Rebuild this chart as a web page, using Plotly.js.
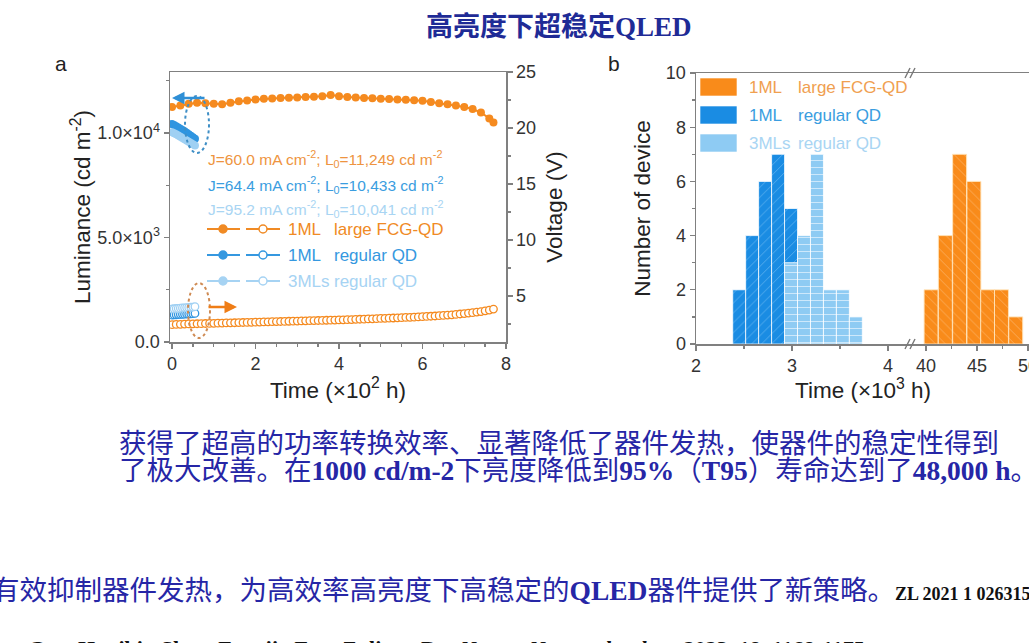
<!DOCTYPE html>
<html><head><meta charset="utf-8">
<script src="https://cdn.plot.ly/plotly-3.0.1.min.js"></script>
<style>html,body{margin:0;padding:0;background:#fff;overflow:hidden;} #chart{width:1029px;height:643px;}</style>
</head><body><div id="chart"></div>
<script>
// ---------- Panel a data (Time in 10^2 h) ----------
const fcgLumTime = [0,0.2,0.4,0.6,0.8,1.0,1.2,1.4,1.6,1.8,2.0,2.2,2.4,2.6,2.8,3.0,3.2,3.4,3.6,3.8,4.0,4.2,4.4,4.6,4.8,5.0,5.2,5.4,5.6,5.8,6.0,6.2,6.4,6.6,6.8,7.0,7.2,7.4,7.6,7.7];
const fcgLum = [11249,11320,11400,11450,11430,11400,11380,11450,11520,11560,11600,11640,11650,11680,11690,11700,11720,11740,11760,11820,11760,11720,11700,11680,11660,11640,11630,11610,11590,11570,11540,11480,11420,11380,11320,11250,11150,10980,10700,10500];
const fcgVoltTime = [0,0.1,0.2,0.3,0.4,0.5,0.6,0.7,0.8,0.9,1.0,1.1,1.2,1.3,1.4,1.5,1.6,1.7,1.8,1.9,2.0,2.1,2.2,2.3,2.4,2.5,2.6,2.7,2.8,2.9,3.0,3.1,3.2,3.3,3.4,3.5,3.6,3.7,3.8,3.9,4.0,4.1,4.2,4.3,4.4,4.5,4.6,4.7,4.8,4.9,5.0,5.1,5.2,5.3,5.4,5.5,5.6,5.7,5.8,5.9,6.0,6.1,6.2,6.3,6.4,6.5,6.6,6.7,6.8,6.9,7.0,7.1,7.2,7.3,7.4,7.5,7.6,7.7];
const fcgVolt = [2.45,2.47,2.48,2.50,2.51,2.52,2.53,2.54,2.55,2.56,2.57,
  2.58,2.59,2.60,2.61,2.62,2.63,2.64,2.65,2.66,2.67,
  2.68,2.69,2.70,2.71,2.72,2.73,2.74,2.75,2.76,2.77,
  2.78,2.79,2.80,2.81,2.82,2.83,2.84,2.85,2.86,2.87,
  2.88,2.89,2.90,2.92,2.93,2.94,2.96,2.97,2.98,3.00,
  3.01,3.03,3.04,3.06,3.07,3.09,3.10,3.12,3.14,3.16,
  3.18,3.20,3.22,3.25,3.27,3.30,3.33,3.36,3.40,3.44,
  3.48,3.52,3.57,3.62,3.68,3.75,3.84];
const regTime = [0,0.05,0.1,0.15,0.2,0.25,0.3,0.35,0.4,0.45,0.5,0.55];
const reg1Lum = [10433,10380,10330,10270,10200,10140,10080,10010,9940,9870,9800,9720];
const reg3Lum = [10041,9990,9940,9880,9820,9760,9700,9640,9580,9520,9460,9400];
const reg1Volt = [3.30,3.32,3.33,3.35,3.36,3.37,3.38,3.40,3.41,3.42,3.43,3.45];
const reg3Volt = [3.85,3.87,3.89,3.90,3.92,3.94,3.95,3.97,3.99,4.00,4.02,4.05];

// ---------- Panel b data (Time in 10^3 h) ----------
const reg1HistTime = [2.45,2.585,2.72,2.855,2.99];
const reg1HistCount = [2,4,6,7,5];
const reg3HistTime = [2.99,3.125,3.26,3.395,3.53,3.665];
const reg3HistCount = [3,4,7,2,2,1];
const fcgHistTime = [40.5,41.9,43.3,44.7,46.05,47.4,48.8];
const fcgHistCount = [2,4,7,6,2,2,1];

const lumTickVals = [0,5000,10000];
const lumTickText = ['0.0','5.0×10<sup>3</sup>','1.0×10<sup>4</sup>'];

const seriesNames = ['1ML', 'large FCG-QD', 'regular QD', '3MLs'];

// ---------- helpers for layout positions (pixels -> paper) ----------
const W = 1029, H = 643;
const P = x => x / W;
const Q = y => 1 - y / H;

const ORANGE = '#f58a1f', BLUE = '#2f95e0', LBLUE = '#9fd0f3';
const AX = '#808080';
const tickFont = {family: 'Liberation Sans, Arial, sans-serif', size: 18, color: '#333'};
const titleFont = {family: 'Liberation Sans, Arial, sans-serif', size: 22.5, color: '#222'};

const openMarker = c => ({color: '#fff', size: 7.5, symbol: 'circle', line: {color: c, width: 1.3}});

const traces = [
  {x: fcgVoltTime, y: fcgVolt, xaxis: 'x', yaxis: 'y2', mode: 'markers', name: 'FCG V',
   marker: openMarker(ORANGE), showlegend: false},
  {x: regTime, y: reg1Volt, xaxis: 'x', yaxis: 'y2', mode: 'markers', name: '1ML V',
   marker: openMarker(BLUE), showlegend: false},
  {x: regTime, y: reg3Volt, xaxis: 'x', yaxis: 'y2', mode: 'markers', name: '3ML V',
   marker: openMarker(LBLUE), showlegend: false},
  {x: fcgLumTime, y: fcgLum, xaxis: 'x', yaxis: 'y', mode: 'lines+markers', name: 'FCG L',
   line: {color: ORANGE, width: 2}, marker: {color: ORANGE, size: 8}, showlegend: false},
  {x: regTime, y: reg1Lum, xaxis: 'x', yaxis: 'y', mode: 'lines+markers', name: '1ML L',
   line: {color: BLUE, width: 2}, marker: {color: BLUE, size: 8}, showlegend: false},
  {x: regTime, y: reg3Lum, xaxis: 'x', yaxis: 'y', mode: 'lines+markers', name: '3ML L',
   line: {color: LBLUE, width: 2}, marker: {color: LBLUE, size: 8}, showlegend: false},
  {type: 'bar', x: reg1HistTime, y: reg1HistCount, xaxis: 'x3', yaxis: 'y3', width: 0.135, name: '1ML regular QD',
   marker: {color: '#1a8ce3', line: {color: 'rgba(255,255,255,0.75)', width: 1},
     pattern: {shape: '/', bgcolor: '#1a8ce3', fgcolor: '#5fb2ef', size: 7, solidity: 0.12}}, showlegend: false},
  {type: 'bar', x: reg3HistTime, y: reg3HistCount, xaxis: 'x3', yaxis: 'y3', width: 0.135, name: '3MLs regular QD',
   marker: {color: '#8ecbf3', line: {color: 'rgba(255,255,255,0.8)', width: 1},
     pattern: {shape: '-', bgcolor: '#8ecbf3', fgcolor: '#cde8fb', size: 7, solidity: 0.15}}, showlegend: false},
  {type: 'bar', x: fcgHistTime, y: fcgHistCount, xaxis: 'x4', yaxis: 'y3', width: 1.37, name: '1ML large FCG-QD',
   marker: {color: '#f98b1a', line: {color: 'rgba(255,230,190,0.9)', width: 1},
     pattern: {shape: '\\', bgcolor: '#f98b1a', fgcolor: '#fbb062', size: 7, solidity: 0.12}}, showlegend: false}
];

const axisCommon = {showline: true, linecolor: AX, linewidth: 1.5, ticks: 'outside', ticklen: 5, tickwidth: 1.3,
  tickcolor: AX, showgrid: false, zeroline: false, tickfont: tickFont, automargin: false, fixedrange: true};

const layout = {
  width: W, height: H, margin: {l: 0, r: 0, t: 0, b: 0},
  paper_bgcolor: '#fff', plot_bgcolor: 'rgba(0,0,0,0)', showlegend: false, barmode: 'overlay',
  font: {family: 'Liberation Sans, Arial, sans-serif'},
  xaxis: Object.assign({}, axisCommon, {domain: [P(170), P(506)], range: [-0.048, 8], dtick: 2, tick0: 0,
    mirror: true, anchor: 'y',
    minor: {dtick: 0.5, tick0: 0, ticks: 'outside', ticklen: 3, tickcolor: AX},
    title: {text: 'Time (×10<sup>2</sup> h)', font: titleFont, standoff: 1}}),
  yaxis: Object.assign({}, axisCommon, {domain: [Q(342), Q(72)], range: [0, 12920], anchor: 'x',
    tickmode: 'array', tickvals: lumTickVals, ticktext: lumTickText,
    minor: {tickmode: 'linear', dtick: 2500, tick0: 0, ticks: 'outside', ticklen: 3, tickcolor: AX},
    title: {text: 'Luminance (cd m<sup>-2</sup>)', font: titleFont, standoff: 0}}),
  yaxis2: Object.assign({}, axisCommon, {overlaying: 'y', side: 'right', anchor: 'x', range: [0.9, 25], dtick: 5, tick0: 0,
    minor: {dtick: 2.5, tick0: 0, ticks: 'outside', ticklen: 3, tickcolor: AX},
    title: {text: 'Voltage (V)', font: titleFont, standoff: 11}}),
  xaxis3: Object.assign({}, axisCommon, {domain: [P(696), P(912)], range: [2, 4.25], dtick: 1, tick0: 2,
    mirror: true, anchor: 'y3',
    minor: {dtick: 0.5, tick0: 2, ticks: 'outside', ticklen: 3, tickcolor: AX}}),
  xaxis4: Object.assign({}, axisCommon, {domain: [P(912), 1], range: [38.63, 50.1], dtick: 5, tick0: 40,
    mirror: true, anchor: 'y3', ticklabeloverflow: 'allow',
    minor: {dtick: 2.5, tick0: 40, ticks: 'outside', ticklen: 3, tickcolor: AX}}),
  yaxis3: Object.assign({}, axisCommon, {domain: [Q(344), Q(73)], range: [0, 10], dtick: 2, tick0: 0, anchor: 'x3',
    minor: {dtick: 1, tick0: 0, ticks: 'outside', ticklen: 3, tickcolor: AX},
    title: {text: 'Number of device', font: titleFont, standoff: 9}}),
  shapes: [],
  annotations: []
};

const S = layout.shapes, A = layout.annotations;
const paperLine = (x0, y0, x1, y1, color, width, dash) => S.push({type: 'line', xref: 'paper', yref: 'paper',
  x0: P(x0), y0: Q(y0), x1: P(x1), y1: Q(y1), line: {color: color, width: width, dash: dash || 'solid'}});
const paperCircle = (cx, cy, r, color, fill) => S.push({type: 'circle', xref: 'paper', yref: 'paper',
  x0: P(cx - r), x1: P(cx + r), y0: Q(cy + r), y1: Q(cy - r), line: {color: color, width: 1.5}, fillcolor: fill});
const txt = (text, x, y, size, color, extra) => A.push(Object.assign({text: text, xref: 'paper', yref: 'paper',
  x: P(x), y: Q(y), xanchor: 'left', yanchor: 'middle', showarrow: false,
  font: {family: 'Liberation Sans, Arial, sans-serif', size: size, color: color}}, extra || {}));

// dotted ellipses & arrows (panel a)
S.push({type: 'circle', xref: 'paper', yref: 'paper', x0: P(185), x1: P(209), y0: Q(153), y1: Q(96),
  line: {color: '#3f8fc6', width: 2, dash: 'dot'}});
S.push({type: 'circle', xref: 'paper', yref: 'paper', x0: P(188), x1: P(210), y0: Q(338), y1: Q(283),
  line: {color: '#cf8a52', width: 2, dash: 'dot'}});
A.push({xref: 'paper', yref: 'paper', x: P(172), y: Q(98), ax: 34, ay: 0, text: '', showarrow: true,
  arrowhead: 2, arrowsize: 1, arrowwidth: 2.5, arrowcolor: '#2f8fd6'});
A.push({xref: 'paper', yref: 'paper', x: P(237), y: Q(307), ax: -30, ay: 0, text: '', showarrow: true,
  arrowhead: 2, arrowsize: 1, arrowwidth: 2.5, arrowcolor: '#ef7d16'});

// J / L0 notes
txt('J=60.0 mA cm<sup>-2</sup>; L<sub>0</sub>=11,249 cd m<sup>-2</sup>', 206, 159, 15.5, '#ee9440');
txt('J=64.4 mA cm<sup>-2</sup>; L<sub>0</sub>=10,433 cd m<sup>-2</sup>', 206, 185, 15.5, '#3a9de0');
txt('J=95.2 mA cm<sup>-2</sup>; L<sub>0</sub>=10,041 cd m<sup>-2</sup>', 206, 209, 15.5, '#a9d5f3');

// panel a legend
const legRows = [
  {y: 229, c: '#f08a24', t1: seriesNames[0], t2: seriesNames[1]},
  {y: 255, c: '#3598e0', t1: seriesNames[0], t2: seriesNames[2]},
  {y: 281, c: '#a6d3f3', t1: seriesNames[3], t2: seriesNames[2]}
];
legRows.forEach(r => {
  paperLine(207, r.y, 240, r.y, r.c, 2);
  paperLine(246, r.y, 280, r.y, r.c, 2);
  paperCircle(223, r.y, 4, r.c, r.c);
  paperCircle(263, r.y, 4, r.c, '#fff');
  txt(r.t1, 286, r.y, 17, r.c);
  txt(r.t2, 332, r.y, 17, r.c);
});

// panel b legend
const legB = [
  {y: 87, c: '#f98b1a', t1: seriesNames[0], t2: seriesNames[1], tc: '#f0a050'},
  {y: 115, c: '#1a8ce3', t1: seriesNames[0], t2: seriesNames[2], tc: '#3a9de0'},
  {y: 143, c: '#8ecbf3', t1: seriesNames[3], t2: seriesNames[2], tc: '#a9d5f3'}
];
legB.forEach(r => {
  S.push({type: 'rect', xref: 'paper', yref: 'paper', x0: P(700), x1: P(737), y0: Q(r.y + 9), y1: Q(r.y - 9),
    line: {color: 'rgba(255,255,255,0.6)', width: 1}, fillcolor: r.c});
  txt(r.t1, 747, r.y, 17, r.tc);
  txt(r.t2, 796, r.y, 17, r.tc);
});

// axis break marks
[73, 344].forEach(yy => {
  paperLine(905, yy + 5, 910, yy - 5, '#777', 1.4);
  paperLine(910, yy + 5, 915, yy - 5, '#777', 1.4);
});

// panel b x title & panel labels
A.push({text: 'Time (×10<sup>3</sup> h)', xref: 'paper', yref: 'paper', x: P(863), y: Q(389), xanchor: 'center',
  yanchor: 'middle', showarrow: false, font: titleFont});
txt('a', 53, 64, 21, '#222');
txt('b', 606, 64, 21, '#222');

// slide texts
const CJK = "'Liberation Serif', 'Noto Sans CJK SC', serif";
const BL = '#2626a6';
A.push({text: '<b>高亮度下超稳定QLED</b>', xref: 'paper', yref: 'paper', x: P(559), y: Q(27), xanchor: 'center',
  yanchor: 'middle', showarrow: false, font: {family: CJK, size: 27, color: '#1f2b96'}});
txt('获得了超高的功率转换效率、显著降低了器件发热，使器件的稳定性得到', 117, 443, 27.5, BL, {font: {family: CJK, size: 27.5, color: BL}});
txt('了极大改善。在<b>1000 cd/m-2</b>下亮度降低到<b>95%</b>（<b>T95</b>）寿命达到了<b>48,000 h</b>。', 117, 471, 27.5, BL, {font: {family: CJK, size: 27.5, color: BL}});
txt('有效抑制器件发热，为高效率高亮度下高稳定的<b>QLED</b>器件提供了新策略。<span style="font-size:18px;color:#111"><b>ZL 2021 1 0263158.5</b></span>', -10, 590, 27.5, BL, {font: {family: CJK, size: 27.5, color: BL}});
txt('<b>Gao, Huaibin Shen, Fengjia Fan, Zuliang Du, <i>Nature Nanotechnology</i> 2023, 18, 1168-1175</b>', 26, 648, 22, '#111', {font: {family: CJK, size: 22, color: '#111'}});

Plotly.newPlot('chart', traces, layout, {staticPlot: true, displayModeBar: false});
</script></body></html>
